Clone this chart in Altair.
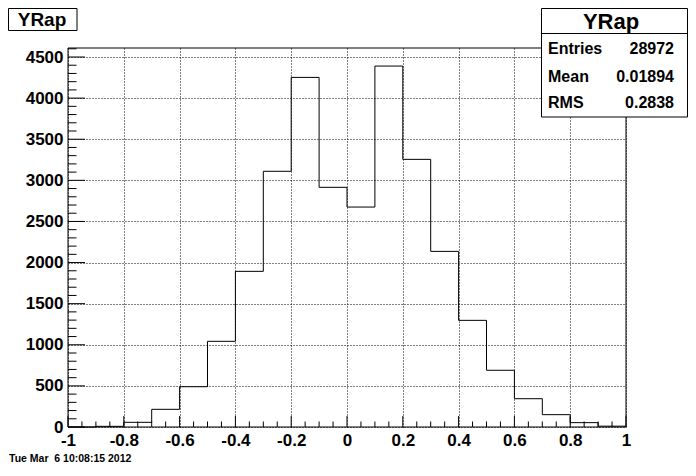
import altair as alt
import numpy as np
import pandas as pd

# ---- data ----
bin_low = [-1.0, -0.9, -0.8, -0.7, -0.6, -0.5, -0.4, -0.3, -0.2, -0.1,
           0.0, 0.1, 0.2, 0.3, 0.4, 0.5, 0.6, 0.7, 0.8, 0.9]
counts = [0, 8, 57, 215, 490, 1042, 1893, 3110, 4252, 2915,
          2675, 4390, 3255, 2136, 1297, 690, 344, 150, 53, 10]
x_range = [-1.0, 1.0]
y_max = 4609.5
x_major = [-1.0, -0.8, -0.6, -0.4, -0.2, 0.0, 0.2, 0.4, 0.6, 0.8, 1.0]
y_major = [0, 500, 1000, 1500, 2000, 2500, 3000, 3500, 4000, 4500]
hist_title = "YRap"
stat_names = ["Entries", "Mean", "RMS"]
stat_values = ["28972", "0.01894", "0.2838"]
date_text = "Tue Mar \u00a06 10:08:15 2012"

W, H = 558, 379
FONT = "Liberation Sans"

xs = alt.Scale(domain=x_range, nice=False, zero=False)
ys = alt.Scale(domain=[0, y_max], nice=False, zero=False)

# step outline of the histogram
sx = [x_range[0]] + bin_low + [x_range[1], x_range[1]]
sy = [0] + counts + [counts[-1], 0]
step_df = pd.DataFrame({"x": sx, "y": sy, "i": list(range(len(sx)))})

x_axis = alt.Axis(values=x_major, grid=True, gridDash=[1, 2], gridColor="black",
                  gridOpacity=1, gridWidth=1, ticks=False, domain=False,
                  labelFont=FONT, labelFontSize=17, labelFontWeight="bold",
                  labelColor="black", labelPadding=5, labelFlush=False,
                  labelOverlap=False, title=None,
                  labelExpr="toString(round(datum.value*10)/10)")
y_axis = alt.Axis(values=y_major, grid=True, gridDash=[1, 2], gridColor="black",
                  gridOpacity=1, gridWidth=1, ticks=False, domain=False,
                  labelFont=FONT, labelFontSize=17, labelFontWeight="bold",
                  labelColor="black", labelPadding=5, labelFlush=False,
                  labelOverlap=False, title=None, format="d")

hist = alt.Chart(step_df).mark_line(interpolate="step-after", color="black",
                                    strokeWidth=1).encode(
    x=alt.X("x:Q", scale=xs, axis=x_axis),
    y=alt.Y("y:Q", scale=ys, axis=y_axis),
    order="i:Q",
)

# inward ticks
x_minor = np.round(np.arange(x_range[0], x_range[1] + 1e-9, 0.05), 2)
x_minor = [float(v) for v in x_minor if not np.isclose(v, np.round(v / 0.2) * 0.2)]
y_minor = [v for v in range(0, 4601, 100) if v % 500 != 0]

xmaj_t = alt.Chart(pd.DataFrame({"x": x_major})).mark_rule(color="black", strokeWidth=1).encode(
    x=alt.X("x:Q", scale=xs, axis=x_axis), y=alt.value(H), y2=alt.value(H - 11))
xmin_t = alt.Chart(pd.DataFrame({"x": x_minor})).mark_rule(color="black", strokeWidth=1).encode(
    x=alt.X("x:Q", scale=xs, axis=x_axis), y=alt.value(H), y2=alt.value(H - 5.5))
ymaj_t = alt.Chart(pd.DataFrame({"y": y_major})).mark_rule(color="black", strokeWidth=1).encode(
    y=alt.Y("y:Q", scale=ys, axis=y_axis), x=alt.value(0), x2=alt.value(17))
ymin_t = alt.Chart(pd.DataFrame({"y": y_minor})).mark_rule(color="black", strokeWidth=1).encode(
    y=alt.Y("y:Q", scale=ys, axis=y_axis), x=alt.value(0), x2=alt.value(8.5))

one = pd.DataFrame({"k": [0]})

frame = alt.Chart(one).mark_rect(fillOpacity=0, stroke="black", strokeWidth=1).encode(
    x=alt.value(0), x2=alt.value(W), y=alt.value(0), y2=alt.value(H))

# title box
tbox = alt.Chart(one).mark_rect(fill="white", stroke="black", strokeWidth=1).encode(
    x=alt.value(-59.5), x2=alt.value(9), y=alt.value(-39.5), y2=alt.value(-17.5))
ttext = alt.Chart(pd.DataFrame({"t": [hist_title]})).mark_text(
    font=FONT, fontSize=19, fontWeight="bold", align="center", baseline="alphabetic",
    color="black").encode(x=alt.value(-26), y=alt.value(-22), text="t:N")

# stats box
sbox = alt.Chart(one).mark_rect(fill="white", stroke="black", strokeWidth=1).encode(
    x=alt.value(473.5), x2=alt.value(619.5), y=alt.value(-39.5), y2=alt.value(69))
sdiv = alt.Chart(one).mark_rule(color="black", strokeWidth=1).encode(
    x=alt.value(473.5), x2=alt.value(619.5), y=alt.value(-14.5))
stitle = alt.Chart(pd.DataFrame({"t": [hist_title]})).mark_text(
    font=FONT, fontSize=22, fontWeight="bold", align="center", baseline="alphabetic",
    color="black").encode(x=alt.value(543), y=alt.value(-19.5), text="t:N")

row_base = [6, 34, 60]
stat_layers = []
for i, (n, v) in enumerate(zip(stat_names, stat_values)):
    stat_layers.append(alt.Chart(pd.DataFrame({"t": [n]})).mark_text(
        font=FONT, fontSize=16, fontWeight="bold", align="left", baseline="alphabetic",
        color="black").encode(x=alt.value(480), y=alt.value(row_base[i]), text="t:N"))
    stat_layers.append(alt.Chart(pd.DataFrame({"t": [v]})).mark_text(
        font=FONT, fontSize=16, fontWeight="bold", align="right", baseline="alphabetic",
        color="black").encode(x=alt.value(606), y=alt.value(row_base[i]), text="t:N"))

date = alt.Chart(pd.DataFrame({"t": [date_text]})).mark_text(
    font=FONT, fontSize=10.5, fontWeight="bold", align="left", baseline="alphabetic",
    color="black").encode(x=alt.value(-59), y=alt.value(414), text="t:N")

chart = alt.layer(
    hist, xmaj_t, xmin_t, ymaj_t, ymin_t, frame,
    tbox, ttext, sbox, sdiv, stitle, *stat_layers, date
).properties(
    width=W, height=H,
    padding={"left": 60, "top": 40, "right": 62, "bottom": 36},
    autosize=alt.AutoSizeParams(type="none"),
    background="white",
).configure_view(stroke=None)

chart.save("out.html", embed_options={"renderer": "svg", "actions": False})
